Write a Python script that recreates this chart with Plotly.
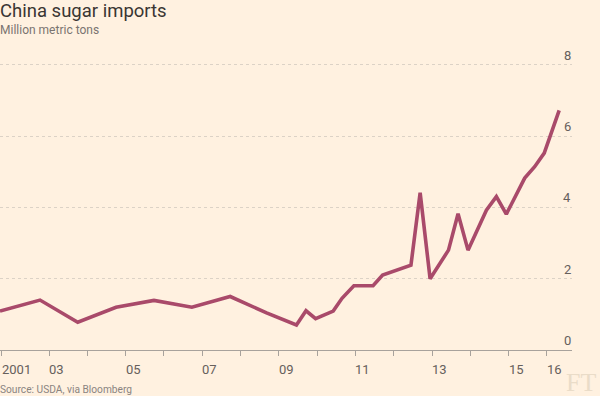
import plotly.graph_objects as go

# ---- data ----
years = [2001.72, 2002.765, 2003.75, 2004.75, 2005.74, 2006.73, 2007.73, 2008.68,
         2009.46, 2009.71, 2009.96, 2010.42, 2010.65, 2010.96, 2011.46, 2011.71,
         2012.45, 2012.69, 2012.95, 2013.43, 2013.68, 2013.94, 2014.42, 2014.68,
         2014.94, 2015.42, 2015.68, 2015.93, 2016.32]
imports_mt = [1.09, 1.40, 0.78, 1.20, 1.39, 1.20, 1.50, 1.04,
              0.70, 1.10, 0.88, 1.09, 1.45, 1.80, 1.80, 2.10,
              2.38, 4.41, 2.00, 2.80, 3.82, 2.80, 3.92, 4.30,
              3.81, 4.82, 5.14, 5.52, 6.72]

x_tick_marks = [2001.77, 2003, 2004, 2005, 2006, 2007, 2008, 2009, 2010,
                2011, 2012, 2013, 2014, 2015, 2016]
x_label_pos = [2001.77, 2003, 2005, 2007, 2009, 2011, 2013, 2015, 2016]
x_label_text = ["2001", "03", "05", "07", "09", "11", "13", "15", "16"]
y_ticks = [0, 2, 4, 6, 8]
y_tick_text = ["0", "2", "4", "6", "8"]

BG = "#FFF1E0"
LINE = "#A94A6A"
LABEL = "#66605C"
FONT = "Roboto"

PLOT_H = 296  # pixels of plot area height

fig = go.Figure()
fig.add_trace(go.Scatter(
    x=years, y=imports_mt, mode="lines",
    line=dict(color=LINE, width=3.6),
    hoverinfo="skip", showlegend=False,
))

fig.update_layout(
    width=600, height=396,
    paper_bgcolor=BG, plot_bgcolor=BG,
    margin=dict(l=0, r=28, t=54, b=46, autoexpand=False),
    font=dict(family=FONT, color=LABEL, size=13),
    showlegend=False,
)

fig.update_xaxes(
    range=[2001.72, 2016.655],
    showgrid=False, zeroline=False,
    showline=True, linecolor="#A8A29C", linewidth=1,
    ticks="outside", ticklen=5, tickcolor="#A8A29C", tickwidth=1,
    tickmode="array", tickvals=x_tick_marks, showticklabels=False,
)

fig.update_yaxes(
    range=[0, 8.3],
    tickmode="array", tickvals=y_ticks, showticklabels=False,
    showgrid=True, gridcolor="#DCD2C6", gridwidth=1, griddash="3px,3px",
    zeroline=False, showline=False, ticks="",
)


def py(px):
    """pixel row -> paper y"""
    return (350 - px) / PLOT_H


annotations = []
for xv, txt in zip(x_label_pos, x_label_text):
    annotations.append(dict(
        x=xv, y=0, xref="x", yref="paper", text=txt, showarrow=False,
        xanchor="left", yanchor="top", yshift=-10, xshift=-2,
        font=dict(size=13, color=LABEL, family=FONT),
    ))
for yv, txt in zip(y_ticks, y_tick_text):
    annotations.append(dict(
        x=1, y=yv, xref="paper", yref="y", text=txt, showarrow=False,
        xanchor="right", yanchor="bottom", yshift=0, xshift=1,
        font=dict(size=13, color=LABEL, family=FONT),
    ))

# title, subtitle, source, logo
annotations += [
    dict(x=0, y=py(-2), xref="paper", yref="paper", text="China sugar imports",
         showarrow=False, xanchor="left", yanchor="top", xshift=-2,
         font=dict(size=18.5, color="#3A3633", family=FONT)),
    dict(x=0, y=py(21), xref="paper", yref="paper", text="Million metric tons",
         showarrow=False, xanchor="left", yanchor="top", xshift=-2,
         font=dict(size=12, color="#7A7470", family=FONT)),
    dict(x=0, y=py(382), xref="paper", yref="paper", text="Source: USDA, via Bloomberg",
         showarrow=False, xanchor="left", yanchor="top", xshift=-2,
         font=dict(size=10.2, color="#8A8480", family=FONT)),
    dict(x=600 / 572, y=py(399), xref="paper", yref="paper", text="FT",
         showarrow=False, xanchor="right", yanchor="bottom", xshift=-2,
         font=dict(size=26, color="#EADCC8", family="Liberation Serif")),
]
fig.update_layout(annotations=annotations)

fig.write_html(
    "out.html",
    config={"displayModeBar": False, "staticPlot": True},
    post_script="document.body.style.margin='0';document.body.style.padding='0';",
)
